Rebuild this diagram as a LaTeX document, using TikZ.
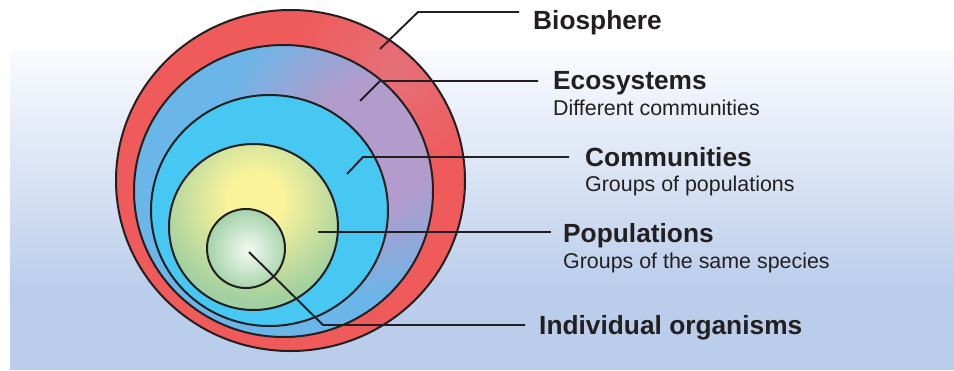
\documentclass[tikz,border=0pt]{standalone}
\usepackage{fontspec}
\setmainfont{Liberation Sans}
\definecolor{ink}{RGB}{35,31,32}
\definecolor{bio}{RGB}{239,91,91}
\definecolor{biohi}{RGB}{230,110,118}
\definecolor{ecoblue}{RGB}{106,182,232}
\definecolor{ecopurple}{RGB}{178,156,204}
\definecolor{comm}{RGB}{70,200,242}
\definecolor{popy}{RGB}{250,243,155}
\definecolor{popg}{RGB}{162,208,160}
\definecolor{indw}{RGB}{238,246,238}
\definecolor{indg}{RGB}{162,210,166}
\definecolor{bgblue}{RGB}{186,205,235}
\definecolor{bgtop}{RGB}{250,251,254}
\pgfdeclareverticalshading{bgshade}{100bp}{color(0bp)=(bgblue); color(37bp)=(bgblue); color(75bp)=(bgtop); color(100bp)=(bgtop)}
\pgfdeclareradialshading{bioshade}{\pgfpoint{0bp}{0bp}}{color(0bp)=(biohi); color(3bp)=(biohi); color(25bp)=(bio); color(50bp)=(bio)}
\pgfdeclareradialshading{ecoshade}{\pgfpoint{0bp}{0bp}}{color(0bp)=(ecopurple); color(10bp)=(ecopurple); color(25bp)=(ecoblue); color(50bp)=(ecoblue)}
\pgfdeclareradialshading{popshade}{\pgfpoint{0bp}{0bp}}{color(0bp)=(popy); color(7bp)=(popy); color(25bp)=(popg); color(50bp)=(popg)}
\pgfdeclareradialshading{indshade}{\pgfpoint{0bp}{0bp}}{color(0bp)=(indw); color(2bp)=(indw); color(25bp)=(indg); color(50bp)=(indg)}
\begin{document}
\begin{tikzpicture}[x=1pt,y=-1pt,
  ring/.style={draw=ink, line width=2pt},
  leader/.style={draw=ink, line width=1.9pt},
  title/.style={anchor=base west, inner sep=0pt, text=ink, font=\bfseries\fontsize{26.3}{31}\selectfont},
  subtitle/.style={anchor=base west, inner sep=0pt, text=ink, font=\fontsize{21.4}{25}\selectfont}]
\useasboundingbox (0,0) rectangle (954,370);
\fill[white] (0,0) rectangle (954,370);
\shade[shading=bgshade] (10,50) rectangle (954,369);
% Biosphere
\fill[bio] (290.5,180.5) ellipse [x radius=174.5pt, y radius=170.5pt];
\begin{scope}
  \clip (290.5,180.5) ellipse [x radius=174.5pt, y radius=170.5pt];
  \shade[shading=bioshade] (395,70) circle (100pt);
\end{scope}
\draw[ring] (290.5,180.5) ellipse [x radius=174.5pt, y radius=170.5pt];
% Ecosystems
\fill[ecoblue] (283.5,191) ellipse [x radius=149.5pt, y radius=146pt];
\begin{scope}
  \clip (283.5,191) ellipse [x radius=149.5pt, y radius=146pt];
  \shade[shading=ecoshade] (372,145) circle (155pt);
\end{scope}
\draw[ring] (283.5,191) ellipse [x radius=149.5pt, y radius=146pt];
% Communities
\draw[ring, fill=comm] (269.5,210.5) ellipse [x radius=118.5pt, y radius=115.5pt];
% Populations
\fill[popg] (253.5,227) ellipse [x radius=84.5pt, y radius=83pt];
\begin{scope}
  \clip (253.5,227) ellipse [x radius=84.5pt, y radius=83pt];
  \shade[shading=popshade] (255,200) circle (100pt);
\end{scope}
\draw[ring] (253.5,227) ellipse [x radius=84.5pt, y radius=83pt];
% Individual
\fill[indg] (246,248.5) ellipse [x radius=39pt, y radius=39.5pt];
\begin{scope}
  \clip (246,248.5) ellipse [x radius=39pt, y radius=39.5pt];
  \shade[shading=indshade] (248,250) circle (42pt);
\end{scope}
\draw[ring] (246,248.5) ellipse [x radius=39pt, y radius=39.5pt];
% labels
\node[title] (bio) at (533,29) {Biosphere};
\node[title] (eco) at (553,89) {Ecosystems};
\node[subtitle] (ecos) at (553,115) {Different communities};
\node[title] (com) at (585,166) {Communities};
\node[subtitle] (coms) at (585,191) {Groups of populations};
\node[title] (pop) at (563,242) {Populations};
\node[subtitle] (pops) at (563,268) {Groups of the same species};
\node[title] (ind) at (539,334) {Individual organisms};
% leader coordinates
\coordinate (bioA) at (380,49);
\coordinate (bioB) at (418,12);
\coordinate (bioC) at (519,12);
\coordinate (ecoA) at (360,101);
\coordinate (ecoB) at (380,81);
\coordinate (ecoC) at (538,81);
\coordinate (comA) at (347,174);
\coordinate (comB) at (363,157);
\coordinate (comC) at (569,157);
\coordinate (popA) at (318,232);
\coordinate (popC) at (551,232);
\coordinate (indA) at (249,252);
\coordinate (indB) at (323,325);
\coordinate (indC) at (525,325);
\draw[leader] (bioA) -- (bioB) -- (bioC);
\draw[leader] (ecoA) -- (ecoB) -- (ecoC);
\draw[leader] (comA) -- (comB) -- (comC);
\draw[leader] (popA) -- (popC);
\draw[leader] (indA) -- (indB) -- (indC);
\end{tikzpicture}
\end{document}
